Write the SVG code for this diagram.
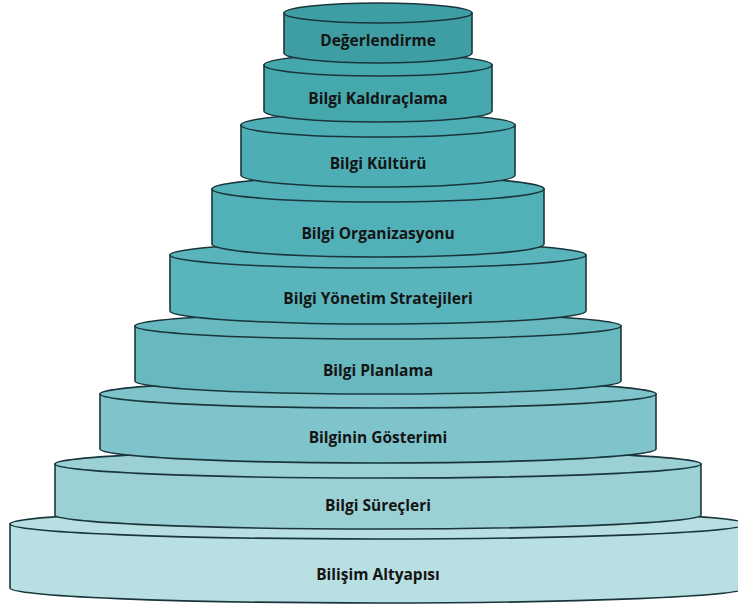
<svg xmlns="http://www.w3.org/2000/svg" width="738" height="604" viewBox="0 0 738 604">
<style>
.b{stroke:#1a363c;stroke-width:1.6}
.t{font-family:"Open Sans","Liberation Sans",sans-serif;font-weight:700;font-size:15.5px;fill:#141414;text-anchor:middle}
</style>
<rect width="738" height="604" fill="#ffffff"/>
<g id="n9">
<path class="b" fill="#b8dfe2" d="M10,524 L10,588 A368,15 0 0 0 746,588 L746,524 Z"/>
<ellipse class="b" fill="#b8dfe2" cx="378" cy="524" rx="368" ry="15"/>
<text class="t" x="378" y="580">Bilişim Altyapısı</text>
</g>
<g id="n8">
<path class="b" fill="#9bd1d5" d="M55,464 L55,515 A323,14 0 0 0 701,515 L701,464 Z"/>
<ellipse class="b" fill="#9bd1d5" cx="378" cy="464" rx="323" ry="14"/>
<text class="t" x="378" y="511">Bilgi Süreçleri</text>
</g>
<g id="n7">
<path class="b" fill="#7ec4ca" d="M100,394 L100,449 A278,14 0 0 0 656,449 L656,394 Z"/>
<ellipse class="b" fill="#7ec4ca" cx="378" cy="394" rx="278" ry="14"/>
<text class="t" x="378" y="443">Bilginin Gösterimi</text>
</g>
<g id="n6">
<path class="b" fill="#68b8bf" d="M135,326 L135,381 A243,13 0 0 0 621,381 L621,326 Z"/>
<ellipse class="b" fill="#68b8bf" cx="378" cy="326" rx="243" ry="13"/>
<text class="t" x="378" y="376">Bilgi Planlama</text>
</g>
<g id="n5">
<path class="b" fill="#5ab4bc" d="M170,255 L170,311 A208,13 0 0 0 586,311 L586,255 Z"/>
<ellipse class="b" fill="#5ab4bc" cx="378" cy="255" rx="208" ry="13"/>
<text class="t" x="378" y="304">Bilgi Yönetim Stratejileri</text>
</g>
<g id="n4">
<path class="b" fill="#52b0b8" d="M212,189 L212,244 A166,13 0 0 0 544,244 L544,189 Z"/>
<ellipse class="b" fill="#52b0b8" cx="378" cy="189" rx="166" ry="13"/>
<text class="t" x="378" y="239">Bilgi Organizasyonu</text>
</g>
<g id="n3">
<path class="b" fill="#4daeb5" d="M241,125 L241,175 A137,12 0 0 0 515,175 L515,125 Z"/>
<ellipse class="b" fill="#4daeb5" cx="378" cy="125" rx="137" ry="12"/>
<text class="t" x="378" y="169">Bilgi Kültürü</text>
</g>
<g id="n2">
<path class="b" fill="#45a8ad" d="M264,65 L264,111 A114,11 0 0 0 492,111 L492,65 Z"/>
<ellipse class="b" fill="#45a8ad" cx="378" cy="65" rx="114" ry="11"/>
<text class="t" x="378" y="104">Bilgi Kaldıraçlama</text>
</g>
<g id="n1">
<path class="b" fill="#3f9ea3" d="M284,13 L284,53 A94,10 0 0 0 472,53 L472,13 Z"/>
<ellipse class="b" fill="#3f9ea3" cx="378" cy="13" rx="94" ry="10"/>
<text class="t" x="378" y="46">Değerlendirme</text>
</g>
<g id="connectors"/>
</svg>
